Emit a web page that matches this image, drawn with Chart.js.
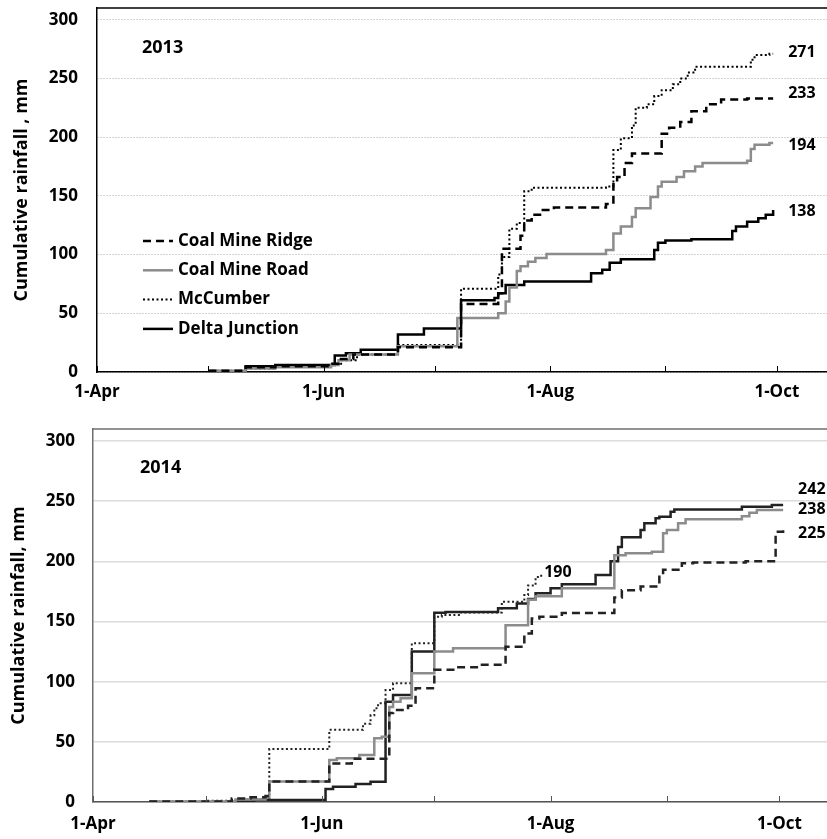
<!DOCTYPE html>
<html>
<head>
<meta charset="utf-8">
<script src="https://cdn.jsdelivr.net/npm/chart.js@4"></script>
<style>
  body { margin: 0; background: #fff; }
  .panel { position: absolute; left: 0; width: 827px; }
  #top { top: 0; height: 415px; }
  #bottom { top: 420px; height: 419px; }
</style>
</head>
<body>
<div class="panel" id="top"><canvas id="chart-2013"></canvas></div>
<div class="panel" id="bottom"><canvas id="chart-2014"></canvas></div>
<script>
const seriesNames = ['Coal Mine Ridge', 'Coal Mine Road', 'McCumber', 'Delta Junction'];

// x axis in days since 1-Apr
const tickDays = [0, 30, 61, 91, 122, 153, 183];
const tickLabels = ['1-Apr', '', '1-Jun', '', '1-Aug', '', '1-Oct'];
const yTicks = [0, 50, 100, 150, 200, 250, 300];

// 2013 cumulative rainfall, [day, mm]
const ridge2013 = [[30,1],[40,4],[48,5],[63,7],[65,11],[69,15],[81,21],[98,58],[108,67],[109,105],[114,116],[115,129],[117,134],[120,138],[123,140],[137,143],[139,160],[140,166],[142,178],[144,186],[152,203],[154,208],[157,213],[160,222],[164,228],[168,232],[175,233],[182,233]];
const road2013 = [[30,1],[40,3],[48,4],[63,6],[65,10],[68,15],[81,22],[97,46],[108,50],[110,60],[111,72],[113,86],[114,90],[116,94],[118,97],[121,100.5],[137,104],[139,118],[141,124],[144,132],[145,139.5],[149,149],[151,158],[152,162],[156,166],[158,171],[161,175],[163,178],[175,180],[176,190],[177,193.5],[181,195],[182,195]];
const mccumber2013 = [[31,1],[40,3],[48,5],[63,7],[66,10],[70,15],[81,23],[98,71],[108,83],[109,98],[111,122],[113,127],[115,154],[117,157],[137,158],[139,189],[141,199],[144,210],[145,225],[148,228],[150,235],[152,240],[155,245],[157,250],[159,255],[161,260],[176,266],[177,270],[181,271],[182,271]];
const delta2013 = [[30,0],[40,5],[48,6],[64,14],[67,16],[71,19],[81,32],[88,37],[98,61],[107,63],[108,67],[110,74],[115,77],[133,84],[136,87],[138,93],[141,96],[150,104],[151,110],[153,112],[160,113],[171,120],[172,124],[175,128],[178,131],[180,134],[182,138]];
const endLabels2013 = ['233', '194', '271', '138'];

// 2014 cumulative rainfall, [day, mm]
const ridge2014 = [[15,0.5],[37,3],[42,4],[46,5],[47,17],[63,32],[69,36],[79,74],[80,76.5],[84,80],[86,94.5],[91,110],[97,112],[103,114],[110,129],[115,140],[117,152.5],[119,154],[125,157],[139,170],[141,176],[146,179],[151,188.6],[152,193],[157,198.4],[160,199],[174,200],[182,224.6],[184,226]];
const road2014 = [[15,0.5],[38,2],[46,4],[47,17],[63,35],[65,36.3],[71,39],[75,53],[77,54.3],[79,79],[80,83.4],[82,86.2],[85,107],[91,125],[96,127.7],[110,147],[116,168],[118,171],[125,177.6],[139,205],[142,206.7],[149,208],[152,223.3],[153,226],[156,231.6],[158,235],[173,237.5],[175,240.4],[177,242.7],[184,242.7]];
const mccumber2014 = [[15,0.5],[30,1],[38,2],[45,3],[47,44],[63,60],[72,65],[74,72],[75,78],[76,82],[78,93],[80,98.6],[85,132],[91,154],[93,155.4],[98,157.5],[109,166.5],[115,172],[116,180],[118,187],[119.5,190]];
const delta2014 = [[38,0.5],[43,1.7],[62,10.8],[64,12.7],[70,15],[74,16.9],[78,83.4],[80,89],[85,125],[91,157.3],[94,158],[108,161],[113,165],[116,168.7],[118,173.4],[122,177.6],[125,181],[134,188.6],[138,200],[140,212],[141,220],[146,226],[147,231.6],[150,235.8],[151,237],[154,241.2],[155,243.2],[173,245.4],[181,246.8],[184,246.8]];
const endLabels2014 = ['225', '238', '190', '242'];

const FONT = '"Open Sans", sans-serif';

function lineStyles(road, dark) {
    return [
        { borderColor: dark, borderWidth: 2.5, borderDash: [8, 5] },
        { borderColor: road, borderWidth: 2.5, borderDash: [] },
        { borderColor: dark, borderWidth: 2, borderDash: [2, 2.5] },
        { borderColor: dark, borderWidth: 2.5, borderDash: [] }
    ];
}

function toPoints(pairs) {
    return pairs.map(([x, y]) => ({ x, y }));
}

// frame top line, inward ticks, year, end labels, legend
const panelDecor = {
    id: 'panelDecor',
    afterDraw(chart, args, opts) {
        const { ctx, chartArea: a, scales: { x } } = chart;
        ctx.save();
        ctx.strokeStyle = opts.frameColor;
        ctx.lineWidth = 1.5;
        ctx.beginPath();
        ctx.moveTo(a.left, a.top);
        ctx.lineTo(a.right, a.top);
        ctx.stroke();

        ctx.strokeStyle = opts.axisColor;
        ctx.lineWidth = 1;
        tickDays.forEach(d => {
            const px = Math.round(x.getPixelForValue(d)) + 0.5;
            ctx.beginPath();
            ctx.moveTo(px, a.bottom);
            ctx.lineTo(px, a.bottom - 6);
            ctx.stroke();
        });

        ctx.fillStyle = '#000';
        ctx.textAlign = 'left';
        ctx.textBaseline = 'middle';
        ctx.font = 'bold 18px ' + FONT;
        ctx.fillText(opts.year, a.left + opts.yearPos[0], a.top + opts.yearPos[1]);

        ctx.font = 'bold 16px ' + FONT;
        chart.data.datasets.forEach((ds, i) => {
            const pts = chart.getDatasetMeta(i).data;
            const last = pts[pts.length - 1];
            const [dx, dy] = opts.labelOffsets[i];
            ctx.fillText(ds.endLabel, last.x + dx, last.y + dy);
        });

        if (opts.legend) {
            ctx.font = 'bold 17px ' + FONT;
            chart.data.datasets.forEach((ds, i) => {
                const y = a.top + 233 + i * 29.3;
                ctx.strokeStyle = ds.borderColor;
                ctx.lineWidth = ds.borderWidth;
                ctx.setLineDash(ds.borderDash);
                ctx.beginPath();
                ctx.moveTo(a.left + 46, y);
                ctx.lineTo(a.left + 76, y);
                ctx.stroke();
                ctx.setLineDash([]);
                ctx.fillText(ds.label, a.left + 81, y);
            });
        }
        ctx.restore();
    }
};

function makeChart(id, cfg) {
    const styles = lineStyles(cfg.roadColor, cfg.darkColor);
    const datasets = cfg.series.map((s, i) => Object.assign({
        label: seriesNames[i],
        data: toPoints(s),
        endLabel: cfg.endLabels[i],
        stepped: true,
        pointRadius: 0,
        fill: false
    }, styles[i]));

    return new Chart(document.getElementById(id), {
        type: 'line',
        data: { datasets },
        plugins: [panelDecor],
        options: {
            animation: false,
            responsive: true,
            maintainAspectRatio: false,
            parsing: false,
            layout: { padding: { top: cfg.padTop, left: 0, right: 0, bottom: 0 } },
            plugins: {
                legend: { display: false },
                tooltip: { enabled: false },
                panelDecor: {
                    frameColor: cfg.frameColor,
                    axisColor: cfg.axisColor,
                    year: cfg.year,
                    yearPos: cfg.yearPos,
                    labelOffsets: cfg.labelOffsets,
                    legend: cfg.legend
                }
            },
            scales: {
                x: {
                    type: 'linear',
                    min: 0,
                    max: cfg.xMax,
                    afterBuildTicks: s => { s.ticks = tickDays.map(v => ({ value: v })); },
                    afterFit: s => { s.height = cfg.xHeight; s.paddingRight = 0; },
                    ticks: {
                        autoSkip: false,
                        maxRotation: 0,
                        padding: cfg.xPad,
                        color: '#000',
                        font: { family: FONT, weight: 'bold', size: 17 },
                        callback: v => tickLabels[tickDays.indexOf(v)]
                    },
                    grid: { display: false, drawTicks: false },
                    border: { display: true, color: cfg.axisColor, width: 1.5 }
                },
                y: {
                    min: 0,
                    max: 310,
                    afterBuildTicks: s => { s.ticks = yTicks.map(v => ({ value: v })); },
                    afterFit: s => { s.width = cfg.yWidth; s.paddingTop = 0; s.paddingBottom = 0; },
                    ticks: {
                        padding: cfg.yPad,
                        color: '#000',
                        font: { family: FONT, weight: 'bold', size: 17 }
                    },
                    grid: { color: cfg.gridColor, lineWidth: cfg.gridWidth, drawTicks: false },
                    border: { display: true, color: cfg.frameColor, width: 1.5, dash: cfg.gridDash },
                    title: {
                        display: true,
                        text: cfg.yTitle,
                        color: '#000',
                        font: { family: FONT, weight: 'bold', size: 18 },
                        padding: { top: cfg.titlePad, bottom: 0 }
                    }
                }
            }
        }
    });
}

makeChart('chart-2013', {
    series: [ridge2013, road2013, mccumber2013, delta2013],
    endLabels: endLabels2013,
    labelOffsets: [[15, -5], [15, 2], [15, -1], [15, 1]],
    year: '2013',
    yearPos: [45, 40],
    legend: true,
    roadColor: '#8c8c8c',
    darkColor: '#000',
    frameColor: '#000',
    axisColor: '#000',
    gridColor: '#a8a8a8',
    gridWidth: 1,
    gridDash: [1, 2],
    padTop: 8,
    xMax: 196.5,
    xHeight: 43,
    xPad: 10,
    yWidth: 97,
    yPad: 19,
    titlePad: 11,
    yTitle: 'Cumulative rainfall , mm'
});

makeChart('chart-2014', {
    series: [ridge2014, road2014, mccumber2014, delta2014],
    endLabels: endLabels2014,
    labelOffsets: [[15, 3], [15, -1], [3, -1], [15, -16]],
    year: '2014',
    yearPos: [47, 39],
    legend: false,
    roadColor: '#8c8c8c',
    darkColor: '#222',
    frameColor: '#6e6e6e',
    axisColor: '#555',
    gridColor: '#dcdcdc',
    gridWidth: 1.5,
    gridDash: [],
    padTop: 9,
    xMax: 195.7,
    xHeight: 37,
    xPad: 12,
    yWidth: 93,
    yPad: 18,
    titlePad: 8,
    yTitle: 'Cumulative rainfall, mm'
});
</script>
</body>
</html>
